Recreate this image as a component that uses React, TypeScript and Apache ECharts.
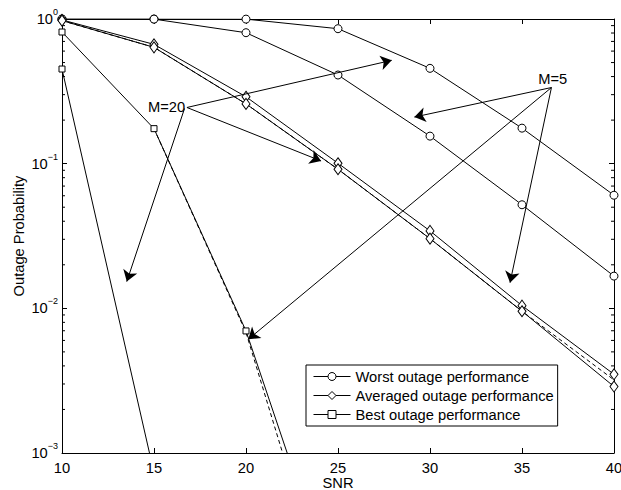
import React, { useEffect, useRef } from 'react';
import * as echarts from 'echarts';

// ---- data ----
const snr = [10, 15, 20, 25, 30, 35, 40];
const worstM20 = [1.0, 1.0, 0.998, 0.857, 0.456, 0.176, 0.0605];
const worstM5 = [1.0, 0.998, 0.804, 0.41, 0.155, 0.052, 0.0167];
const avgUpper = [0.985, 0.668, 0.29, 0.1007, 0.0343, 0.01044, 0.0035];
const avgLower = [0.975, 0.637, 0.259, 0.0915, 0.0303, 0.00955, 0.00288];
const avgApprox = [0.975, 0.637, 0.259, 0.0915, 0.0303, 0.00955, 0.0032];
const bestM5Snr = [10, 15, 20, 25];
const bestM5 = [0.813, 0.1746, 0.00698, 0.000091];
const bestApproxSnr = [15, 20, 25];
const bestApprox = [0.1746, 0.0068, 0.000055];
const bestM20Snr = [10, 15];
const bestM20 = [0.451, 0.00073];

const legendNames = ['Worst outage performance', 'Averaged outage performance', 'Best outage performance'];
const xTicks = [10, 15, 20, 25, 30, 35, 40];
const yTicks = [0.001, 0.01, 0.1, 1];
const minorTickValues = [
  0.002, 0.003, 0.004, 0.005, 0.006, 0.007, 0.008, 0.009,
  0.02, 0.03, 0.04, 0.05, 0.06, 0.07, 0.08, 0.09,
  0.2, 0.3, 0.4, 0.5, 0.6, 0.7, 0.8, 0.9,
];

// annotations (data coordinates)
const labelM20 = [15.68, 0.2465];
const labelM5 = [36.67, 0.387];
const m20Origin = [16.79, 0.2445];
const m20OriginDown = [16.66, 0.2407];
const m20Tips = [[27.92, 0.518], [24.08, 0.1044]];
const m20TipDown = [13.52, 0.0153];
const m5Origin = [36.6, 0.336];
const m5Tips = [[29.15, 0.21], [20.125, 0.00611], [34.35, 0.01505]];

const FONT = '"Liberation Sans", Arial, Helvetica, sans-serif';

const pair = (xs: number[], ys: number[]) => ys.map((y, i) => [xs[i], y]);

const expText = (v: number) => {
  const e = Math.round(Math.log10(v));
  return e === 0 ? '0' : '\u2212' + String(-e);
};

export default function App() {
  const ref = useRef<HTMLDivElement>(null);

  useEffect(() => {
    if (!ref.current) return;
    const chart = echarts.init(ref.current, undefined, { renderer: 'svg' });

    const markerStyle = { color: '#fff', borderColor: '#000', borderWidth: 1 };
    const lineStyle = { color: '#000', width: 1 };

    const dataSeries = (name: string, data: number[][], symbol: string, symbolSize: any) => ({
      type: 'line',
      name,
      data,
      symbol,
      symbolSize,
      showSymbol: true,
      itemStyle: markerStyle,
      lineStyle,
      z: 3,
      silent: true,
      clip: true,
    });

    const dashed = (name: string, data: number[][]) => ({
      type: 'line',
      name,
      data,
      symbol: 'none',
      lineStyle: { color: '#000', width: 1, type: [4, 3] },
      z: 2,
      silent: true,
      clip: true,
    });

    const arrow = (from: number[], to: number[]) => [
      { coord: from, symbol: 'none' },
      { coord: to, symbol: 'arrow' },
    ];

    const option: any = {
      animation: false,
      backgroundColor: '#fff',
      textStyle: { fontFamily: FONT },
      grid: { left: 62, right: 7, top: 19, bottom: 37, outerBoundsMode: 'none', containLabel: false },
      legend: {
        data: legendNames,
        orient: 'vertical',
        left: 306,
        top: 365,
        padding: [3, 4, 3, 7],
        itemGap: 2,
        itemWidth: 37,
        itemHeight: 10,
        borderColor: '#000',
        borderWidth: 1,
        backgroundColor: '#fff',
        selectedMode: false,
        itemStyle: { color: '#fff', borderColor: '#000', borderWidth: 1 },
        lineStyle: { color: '#000', width: 1 },
        textStyle: { fontFamily: FONT, fontSize: 14.7, color: '#000', lineHeight: 17 },
      },
      xAxis: [
        {
          type: 'value',
          min: xTicks[0],
          max: xTicks[xTicks.length - 1],
          interval: 5,
          position: 'bottom',
          name: 'SNR',
          nameLocation: 'middle',
          nameGap: 22,
          nameMoveOverlap: false,
          nameTextStyle: { fontFamily: FONT, fontSize: 14.7, color: '#000' },
          axisLine: { show: true, onZero: false, lineStyle: { color: '#000', width: 1 } },
          axisTick: { show: true, inside: true, length: 5, lineStyle: { color: '#000' } },
          axisLabel: { show: true, margin: 7, fontFamily: FONT, fontSize: 14.7, color: '#000', showMinLabel: true, showMaxLabel: true },
          splitLine: { show: false },
        },
        {
          type: 'value',
          min: xTicks[0],
          max: xTicks[xTicks.length - 1],
          interval: 5,
          position: 'top',
          axisLine: { show: true, onZero: false, lineStyle: { color: '#000', width: 1 } },
          axisTick: { show: true, inside: true, length: 5, lineStyle: { color: '#000' } },
          axisLabel: { show: false },
          splitLine: { show: false },
        },
      ],
      yAxis: [
        {
          type: 'log',
          logBase: 10,
          min: yTicks[0],
          max: yTicks[yTicks.length - 1],
          position: 'left',
          name: 'Outage Probability',
          nameLocation: 'middle',
          nameGap: 36,
          nameMoveOverlap: false,
          nameTextStyle: { fontFamily: FONT, fontSize: 14.7, color: '#000' },
          axisLine: { show: true, onZero: false, lineStyle: { color: '#000', width: 1 } },
          axisTick: { show: true, inside: true, length: 5, lineStyle: { color: '#000' } },
          axisLabel: {
            show: true,
            margin: 4,
            color: '#000',
            formatter: (v: number) => `{b|10}{s|${expText(v)}}`,
            rich: {
              b: { fontFamily: FONT, fontSize: 14.7, color: '#000' },
              s: { fontFamily: FONT, fontSize: 9, color: '#000', padding: [0, 0, 14, 0] },
            },
          },
          splitLine: { show: false },
        },
        {
          type: 'log',
          logBase: 10,
          min: yTicks[0],
          max: yTicks[yTicks.length - 1],
          position: 'right',
          axisLine: { show: true, onZero: false, lineStyle: { color: '#000', width: 1 } },
          axisTick: { show: true, inside: true, length: 5, lineStyle: { color: '#000' } },
          axisLabel: { show: false },
          splitLine: { show: false },
        },
      ],
      series: [
        {
          type: 'custom',
          name: 'minor ticks',
          silent: true,
          data: minorTickValues.map((v) => [xTicks[0], v]),
          encode: { x: 0, y: 1 },
          renderItem: (params: any, api: any) => {
            const v = api.value(1);
            const pl = api.coord([xTicks[0], v]);
            const pr = api.coord([xTicks[xTicks.length - 1], v]);
            return {
              type: 'group',
              children: [
                { type: 'line', shape: { x1: pl[0], y1: pl[1], x2: pl[0] + 3, y2: pl[1] }, style: { stroke: '#000', lineWidth: 1 } },
                { type: 'line', shape: { x1: pr[0] - 3, y1: pr[1], x2: pr[0], y2: pr[1] }, style: { stroke: '#000', lineWidth: 1 } },
              ],
            };
          },
          z: 1,
        },
        dashed('avg approx', pair(snr, avgApprox)),
        dashed('best approx', pair(bestApproxSnr, bestApprox)),
        dataSeries(legendNames[0], pair(snr, worstM20), 'circle', 8),
        dataSeries(legendNames[0], pair(snr, worstM5), 'circle', 8),
        dataSeries(legendNames[1], pair(snr, avgUpper), 'diamond', [8, 11]),
        dataSeries(legendNames[1], pair(snr, avgLower), 'diamond', [8, 11]),
        dataSeries(legendNames[2], pair(bestM5Snr, bestM5), 'rect', 6),
        dataSeries(legendNames[2], pair(bestM20Snr, bestM20), 'rect', 6),
        {
          type: 'line',
          name: 'annotations',
          data: [],
          silent: true,
          z: 4,
          markLine: {
            silent: true,
            animation: false,
            symbolSize: 11,
            lineStyle: { color: '#000', width: 1, type: 'solid' },
            label: { show: false },
            data: [
              arrow(m20Origin, m20Tips[0]),
              arrow(m20Origin, m20Tips[1]),
              arrow(m20OriginDown, m20TipDown),
              arrow(m5Origin, m5Tips[0]),
              arrow(m5Origin, m5Tips[1]),
              arrow(m5Origin, m5Tips[2]),
            ],
          },
          markPoint: {
            silent: true,
            animation: false,
            symbol: 'rect',
            symbolSize: 1,
            itemStyle: { color: 'rgba(0,0,0,0)' },
            label: { show: true, position: 'inside', formatter: '{b}', color: '#000', fontFamily: FONT, fontSize: 14.7 },
            data: [
              { name: 'M=20', coord: labelM20 },
              { name: 'M=5', coord: labelM5 },
            ],
          },
        },
      ],
    };

    chart.setOption(option);
    return () => chart.dispose();
  }, []);

  return (
    <div
      ref={ref}
      style={{ position: 'fixed', left: 0, top: 0, width: 621, height: 490, background: '#fff' }}
    />
  );
}
